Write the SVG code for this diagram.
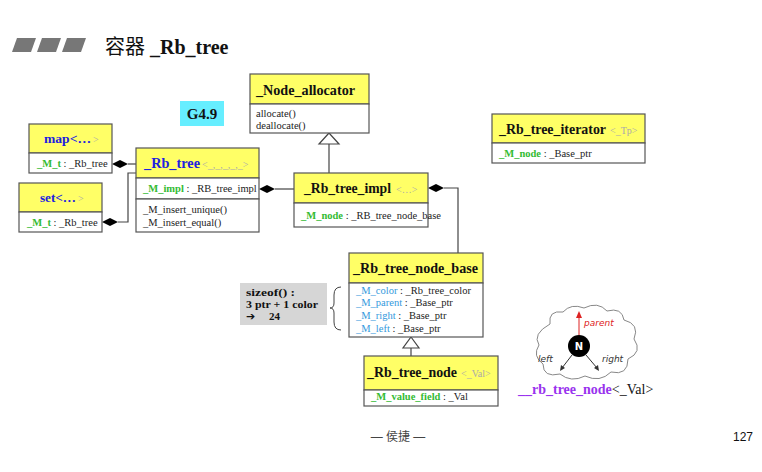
<svg xmlns="http://www.w3.org/2000/svg" width="762" height="472" viewBox="0 0 762 472">
<style>
.box{fill:#fff;stroke:#555;stroke-width:1.2}
.hd{fill:#ffff66;stroke:#555;stroke-width:1.2}
.ln{fill:none;stroke:#444;stroke-width:1.2}
.s{font-family:"Liberation Serif","Noto Sans CJK SC",serif}
.t{font-size:14px;font-weight:bold;fill:#111}
.tb{font-weight:bold;fill:#2020e0}
.tp{font-size:10px;fill:#aaa;font-weight:normal}
.a{font-size:10.5px;fill:#222}
.g{fill:#33bb33;font-weight:bold}
.c{fill:#3399dd}
.dia{fill:#000}
.sz{font-size:11px;font-weight:bold;fill:#111}
</style>
<rect width="762" height="472" fill="#fff"/>
<g id="header">
<polygon points="17,38 36,38 31,52 12,52" fill="#777"/>
<polygon points="42,38 61,38 56,52 37,52" fill="#777"/>
<polygon points="67,38 86,38 81,52 62,52" fill="#777"/>
<text x="105" y="54" font-size="20" fill="#111"><tspan font-family="Noto Sans CJK SC,sans-serif">容器</tspan><tspan font-family="Liberation Serif,serif" font-weight="bold"> _Rb_tree</tspan></text>
</g>
<g id="g49">
<rect x="180" y="101" width="44" height="25" fill="#66eeff"/>
<text x="202" y="119" class="s" font-size="15" font-weight="bold" text-anchor="middle" fill="#111">G4.9</text>
</g>
<g id="connectors">
<line x1="128" y1="164" x2="136" y2="164" class="ln"/>
<polygon points="112,164 120,160 128,164 120,168" class="dia"/>
<polyline points="118,222 128,222 128,173 136,173" class="ln"/>
<polygon points="102,222 110,218 118,222 110,226" class="dia"/>
<line x1="275" y1="189" x2="294" y2="189" class="ln"/>
<polygon points="259,189 267,185 275,189 267,193" class="dia"/>
<polyline points="444,188 458,188 458,253" class="ln"/>
<polygon points="428,188 436,184 444,188 436,192" class="dia"/>
<line x1="329" y1="144" x2="329" y2="173" class="ln"/>
<polygon points="329,133 339,144 319,144" fill="#fff" stroke="#444" stroke-width="1.2"/>
<line x1="411" y1="348" x2="411" y2="356" class="ln"/>
<polygon points="411,337 419,348 403,348" fill="#fff" stroke="#444" stroke-width="1.2"/>
</g>
<g id="map">
<rect x="29" y="124" width="83" height="29" class="hd"/>
<rect x="29" y="153" width="83" height="20" class="box"/>
<text x="44" y="143" class="s tb" font-size="13.5" textLength="47" lengthAdjust="spacingAndGlyphs">map&lt;…</text>
<text x="93" y="143" class="s tp">&gt;</text>
<text x="37" y="167" class="s a"><tspan class="g">_M_t</tspan> : _Rb_tree</text>
</g>
<g id="set">
<rect x="19" y="183" width="83" height="29" class="hd"/>
<rect x="19" y="212" width="83" height="20" class="box"/>
<text x="40" y="202" class="s tb" font-size="13.5" textLength="36" lengthAdjust="spacingAndGlyphs">set&lt;…</text>
<text x="78" y="202" class="s tp">&gt;</text>
<text x="27" y="226" class="s a"><tspan class="g">_M_t</tspan> : _Rb_tree</text>
</g>
<g id="rb_tree">
<rect x="136" y="148" width="123" height="30" class="hd"/>
<rect x="136" y="178" width="123" height="21" class="box"/>
<rect x="136" y="199" width="123" height="33" class="box"/>
<text x="144" y="168" class="s tb" font-size="14.5" textLength="56" lengthAdjust="spacingAndGlyphs">_Rb_tree</text>
<text x="202" y="168" class="s tp">&lt;_,_,_,_,_&gt;</text>
<text x="143" y="192" class="s a" font-size="10"><tspan class="g">_M_impl</tspan> : _RB_tree_impl</text>
<text x="143" y="213" class="s a">_M_insert_unique()</text>
<text x="143" y="226" class="s a">_M_insert_equal()</text>
</g>
<g id="node_allocator">
<rect x="250" y="74" width="119" height="30" class="hd"/>
<rect x="250" y="104" width="119" height="29" class="box"/>
<text x="256" y="95" class="s t" textLength="99" lengthAdjust="spacingAndGlyphs">_Node_allocator</text>
<text x="256" y="117" class="s a">allocate()</text>
<text x="256" y="129" class="s a">deallocate()</text>
</g>
<g id="rb_tree_impl">
<rect x="294" y="173" width="134" height="30" class="hd"/>
<rect x="294" y="203" width="134" height="24" class="box"/>
<text x="304" y="193" class="s t" textLength="87" lengthAdjust="spacingAndGlyphs">_Rb_tree_impl</text>
<text x="396" y="193" class="s tp">&lt;…&gt;</text>
<text x="301" y="219" class="s a"><tspan class="g">_M_node</tspan> : _RB_tree_node_base</text>
</g>
<g id="rb_tree_iterator">
<rect x="492" y="114" width="153" height="29" class="hd"/>
<rect x="492" y="143" width="153" height="20" class="box"/>
<text x="499" y="134" class="s t" textLength="107" lengthAdjust="spacingAndGlyphs">_Rb_tree_iterator</text>
<text x="610" y="134" class="s tp" font-size="11">&lt;_Tp&gt;</text>
<text x="499" y="157" class="s a"><tspan class="g">_M_node</tspan> : _Base_ptr</text>
</g>
<g id="rb_tree_node_base">
<rect x="349" y="253" width="134" height="30" class="hd"/>
<rect x="349" y="283" width="134" height="54" class="box"/>
<text x="353" y="273" class="s t" font-size="15" textLength="125" lengthAdjust="spacingAndGlyphs">_Rb_tree_node_base</text>
<text x="356" y="294" class="s a"><tspan class="c">_M_color</tspan> : _Rb_tree_color</text>
<text x="356" y="306" class="s a"><tspan class="c">_M_parent</tspan> : _Base_ptr</text>
<text x="356" y="319" class="s a"><tspan class="c">_M_right</tspan> : _Base_ptr</text>
<text x="356" y="332" class="s a"><tspan class="c">_M_left</tspan> : _Base_ptr</text>
</g>
<g id="sizeof">
<rect x="240" y="283" width="87" height="42" fill="#d6d6d6"/>
<text x="246" y="296" class="s sz" textLength="49" lengthAdjust="spacingAndGlyphs">sizeof() :</text>
<text x="246" y="308" class="s sz" textLength="72" lengthAdjust="spacingAndGlyphs">3 ptr + 1 color</text>
<text x="246" y="320" font-family="DejaVu Sans,sans-serif" font-size="11" font-weight="bold" fill="#111">➔</text>
<text x="269" y="320" class="s sz">24</text>
<path d="M341,287 Q334,287 334,295 L334,303 Q334,308 330,308 Q334,308 334,313 L334,322 Q334,330 341,330" fill="none" stroke="#444" stroke-width="1"/>
</g>
<g id="rb_tree_node">
<rect x="364" y="356" width="134" height="34" class="hd"/>
<rect x="364" y="390" width="134" height="16" class="box"/>
<text x="367" y="377" class="s t" textLength="90" lengthAdjust="spacingAndGlyphs">_Rb_tree_node</text>
<text x="461" y="377" class="s tp" font-size="11">&lt;_Val&gt;</text>
<text x="371" y="400" class="s a"><tspan class="g">_M_value_field</tspan> : _Val</text>
</g>
<g id="cloud">
<path d="M550,324 Q548,310 563,312 Q571,303 584,308 Q598,301 607,311 Q622,307 624,320 Q640,324 634,339 Q643,352 628,359 Q628,376 611,372 Q600,383 585,376 Q571,383 560,374 Q543,378 543,364 Q532,356 539,345 Q532,334 550,324 Z" fill="#fff" stroke="#888" stroke-width="1"/>
<line x1="579" y1="335" x2="579" y2="317" stroke="#d22" stroke-width="1"/>
<polygon points="579,311 582,318 576,318" fill="#d22"/>
<text x="584" y="326" font-family="DejaVu Sans,sans-serif" font-style="italic" font-size="9" fill="#d22">parent</text>
<circle cx="579" cy="346" r="11" fill="#000"/>
<text x="579" y="350" font-family="DejaVu Sans,sans-serif" font-weight="bold" font-size="10" fill="#fff" text-anchor="middle">N</text>
<line x1="572" y1="355" x2="562" y2="368" stroke="#333" stroke-width="1"/>
<polygon points="560,371 561,365 565,368" fill="#333"/>
<line x1="586" y1="355" x2="597" y2="368" stroke="#333" stroke-width="1"/>
<polygon points="599,371 594,368 598,365" fill="#333"/>
<text x="538" y="362" font-family="DejaVu Sans,sans-serif" font-style="italic" font-size="9" fill="#333">left</text>
<text x="602" y="362" font-family="DejaVu Sans,sans-serif" font-style="italic" font-size="9" fill="#333">right</text>
<text x="518" y="394" class="s" font-size="14"><tspan fill="#9933ee" font-weight="bold">__rb_tree_node</tspan><tspan fill="#111">&lt;_Val&gt;</tspan></text>
</g>
<g id="footer">
<text x="398" y="441" font-family="Liberation Sans,Noto Sans CJK SC,sans-serif" font-size="12" fill="#444" text-anchor="middle">— 侯捷 —</text>
<text x="733" y="441" font-family="Liberation Sans,sans-serif" font-size="12" fill="#111">127</text>
</g>
</svg>
